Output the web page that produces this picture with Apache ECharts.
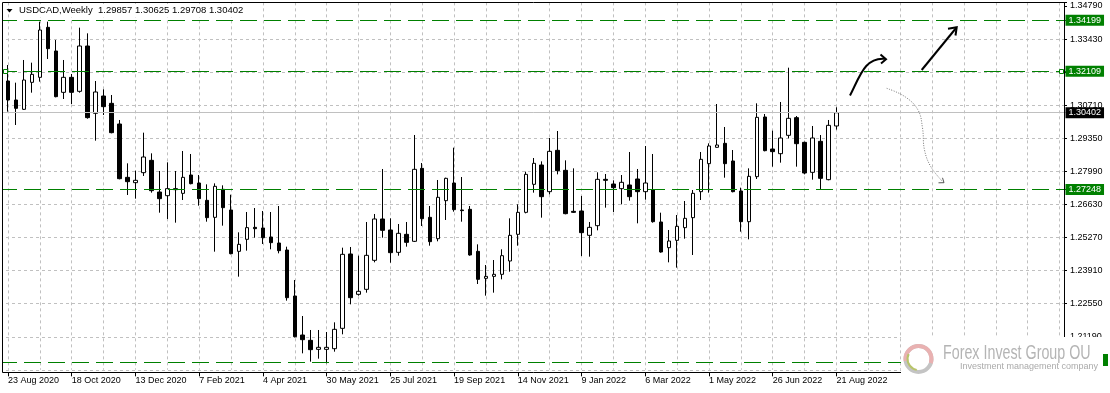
<!DOCTYPE html>
<html><head><meta charset="utf-8">
<script src="https://cdn.jsdelivr.net/npm/echarts@6/dist/echarts.min.js"></script>
<style>html,body{margin:0;padding:0;background:#fff}#c{width:1110px;height:393px}</style>
</head><body><div id="c"></div>
<script>
// USDCAD weekly candles, first week starts 23 Aug 2020
const firstWeek = '2020-08-23';
const opens = [1.31706,1.30925,1.30541,1.31651,1.31857,1.33913,1.32940,1.31240,1.31857,1.31281,
1.33145,1.30377,1.31089,1.30788,1.29938,1.27745,1.27526,1.27937,1.28444,1.27142,
1.26991,1.27279,1.27087,1.27841,1.27512,1.26799,1.26100,1.27252,1.26402,1.24702,
1.25196,1.25689,1.25662,1.25292,1.25045,1.24757,1.22866,1.21262,1.21043,1.20673,
1.20673,1.20700,1.21536,1.24593,1.22934,1.23140,1.24332,1.26032,1.25580,1.24661,
1.25401,1.25114,1.28115,1.26100,1.25223,1.26786,1.27512,1.26402,1.26429,1.24702,
1.23592,1.23674,1.23757,1.24305,1.25401,1.26306,1.27457,1.28252,1.27156,1.28855,
1.28033,1.26347,1.26361,1.25360,1.25758,1.27663,1.27471,1.27279,1.27430,1.27677,
1.27156,1.27224,1.25909,1.24853,1.25155,1.25676,1.26087,1.27156,1.28307,1.28979,
1.29143,1.28417,1.27183,1.25922,1.27773,1.30226,1.28910,1.28718,1.29472,1.30199,
1.29184,1.27951,1.29225,1.27649,1.29857];
const highs = [1.32364,1.31638,1.32570,1.32460,1.34146,1.34146,1.33392,1.32570,1.31994,1.33899,
1.33666,1.31706,1.31364,1.31131,1.30103,1.28321,1.28019,1.29582,1.28732,1.28006,
1.28362,1.28006,1.28828,1.28705,1.27841,1.27457,1.27498,1.27416,1.27032,1.25484,
1.26320,1.26484,1.26361,1.26320,1.26566,1.24894,1.23524,1.22043,1.21468,1.21468,
1.21386,1.21783,1.24853,1.24881,1.24524,1.25909,1.26238,1.28088,1.26059,1.25826,
1.25909,1.29486,1.28335,1.26566,1.27636,1.27731,1.28965,1.27759,1.26566,1.24990,
1.24140,1.24346,1.24785,1.26059,1.26635,1.27978,1.28540,1.28403,1.29362,1.29650,
1.28444,1.28115,1.26978,1.25909,1.27951,1.27882,1.27622,1.27841,1.28787,1.28088,
1.29034,1.28705,1.26292,1.25580,1.26196,1.26772,1.27224,1.28787,1.29143,1.30760,
1.29815,1.28869,1.27320,1.28115,1.30788,1.30349,1.29664,1.30843,1.32254,1.30267,
1.29212,1.29856,1.29486,1.30103,1.30625];
const lows = [1.30445,1.29897,1.30514,1.31226,1.31679,1.32611,1.31035,1.30966,1.30760,1.31226,
1.30157,1.29253,1.30308,1.29554,1.27663,1.27019,1.26868,1.27800,1.27115,1.26292,
1.26032,1.25881,1.26813,1.27457,1.26580,1.25922,1.24689,1.25758,1.24579,1.23661,
1.24730,1.25264,1.25004,1.24785,1.24620,1.22674,1.21166,1.20508,1.20166,1.20289,
1.20097,1.20577,1.21290,1.22523,1.22880,1.23003,1.24250,1.25264,1.24236,1.24524,
1.24894,1.25086,1.25744,1.24935,1.25114,1.25991,1.26333,1.25922,1.24524,1.23359,
1.22880,1.23003,1.23551,1.23866,1.24935,1.26265,1.27115,1.26087,1.27046,1.27868,
1.26224,1.26279,1.24511,1.24483,1.25566,1.26498,1.26320,1.26635,1.26786,1.25854,
1.26827,1.25881,1.24648,1.24250,1.24031,1.25223,1.24552,1.26813,1.27115,1.28965,
1.27731,1.27128,1.25511,1.25196,1.27677,1.28814,1.28184,1.28348,1.29349,1.28184,
1.27868,1.27649,1.27265,1.27622,1.29708];
const closes = [1.30925,1.30582,1.31747,1.31980,1.33803,1.33036,1.31062,1.31857,1.31240,1.33145,
1.30199,1.31254,1.30651,1.29582,1.27690,1.27567,1.27622,1.28581,1.27197,1.26868,
1.27279,1.27238,1.27745,1.27485,1.26868,1.26087,1.27375,1.26498,1.24606,1.24990,
1.25676,1.25634,1.25264,1.25059,1.24730,1.22797,1.21194,1.21070,1.20659,1.20755,
1.20755,1.21495,1.24579,1.22797,1.23058,1.24538,1.26032,1.25566,1.24648,1.25443,
1.25072,1.28074,1.26046,1.25100,1.26923,1.27704,1.26416,1.26375,1.24552,1.23551,
1.23674,1.23757,1.24524,1.25360,1.26306,1.27868,1.28321,1.26950,1.28814,1.28019,
1.26251,1.26306,1.25470,1.25689,1.27663,1.27622,1.27320,1.27540,1.26950,1.27156,
1.27512,1.25922,1.24675,1.25127,1.25730,1.26059,1.27087,1.28485,1.29034,1.29075,
1.28307,1.27156,1.25922,1.27786,1.30212,1.28842,1.28801,1.29362,1.30171,1.29129,
1.27923,1.29362,1.27704,1.29883,1.30402];
// horizontal levels drawn on the chart
const greenLevels = [1.34199, 1.32109, 1.27248];
const lowerLevel = 1.20140;
const lastPrice = 1.30402;
const titleText = 'USDCAD,Weekly  1.29857 1.30625 1.29708 1.30402';
const yMin = 1.1983, yMax = 1.3494, yStep = 0.0136;

const MONTHS = ['Jan','Feb','Mar','Apr','May','Jun','Jul','Aug','Sep','Oct','Nov','Dec'];
const t0 = Date.parse(firstWeek + 'T00:00:00Z');
const categories = [''];
for (let i = 0; i < opens.length; i++) {
  const d = new Date(t0 + i * 7 * 86400000);
  categories.push(d.getUTCDate() + ' ' + MONTHS[d.getUTCMonth()] + ' ' + d.getUTCFullYear());
}
while (categories.length < 135) categories.push('');

const candles = opens.map((o, i) => [i + 1, o, closes[i], lows[i], highs[i]]);

const FONT = '"Liberation Sans", Arial, sans-serif';
const GREEN = '#008000';
const gridColors = [];
for (let k = 0; k < 13; k++) gridColors.push(k >= 11 ? 'rgba(0,0,0,0)' : '#c0c0c0');

const labelIdx = (idx, val) => val !== '' && (idx - 1) % 8 === 0;

const greenMark = v => ({
  yAxis: v,
  lineStyle: { color: GREEN, type: [17, 7], width: 1 },
  label: { show: true, position: 'end', distance: -2, formatter: () => v.toFixed(5),
    color: '#fff', backgroundColor: GREEN, padding: [1, 3, 0, 3], lineHeight: 10,
    fontSize: 9, fontFamily: FONT }
});

const chart = echarts.init(document.getElementById('c'), null, { renderer: 'canvas' });
chart.setOption({
  animation: false,
  backgroundColor: '#fff',
  title: {
    text: titleText, left: 17, top: 4, padding: [1, 2, 1, 2], backgroundColor: '#fff',
    textStyle: { fontSize: 9.5, fontWeight: 'normal', color: '#000', fontFamily: FONT, lineHeight: 11 }
  },
  grid: { left: -4.5, top: 2.352, width: 1072, height: 367.48, containLabel: false },
  xAxis: {
    type: 'category', data: categories, boundaryGap: false, offset: 2.5,
    axisLine: { show: false },
    axisTick: { show: true, interval: labelIdx, length: 4, lineStyle: { color: '#000' } },
    axisLabel: { show: true, interval: labelIdx, align: 'left', margin: 3.5, color: '#000',
      fontSize: 9, fontFamily: FONT, hideOverlap: false },
    splitLine: { show: true, interval: (idx) => (idx - 1) % 4 === 0 && idx >= 1,
      lineStyle: { color: '#c0c0c0', type: [3, 3], width: 1 } }
  },
  yAxis: {
    type: 'value', position: 'right', min: yMin, max: yMax, interval: yStep, scale: true,
    offset: -3.5,
    axisLine: { show: false },
    axisTick: { show: true, length: 3, lineStyle: { color: '#000' } },
    axisLabel: { margin: 6, color: '#000', fontSize: 9, fontFamily: FONT,
      formatter: v => (Math.abs(v - yMax) < 1e-6 || Math.abs(v - yMin) < 1e-6) ? '' : v.toFixed(5) },
    splitLine: { show: true, lineStyle: { color: gridColors, type: [3, 3], width: 1 } }
  },
  series: [{
    type: 'candlestick',
    data: candles,
    encode: { x: 0, y: [1, 2, 3, 4] },
    barWidth: 4,
    itemStyle: { color: '#fff', color0: '#000', borderColor: '#000', borderColor0: '#000', borderWidth: 1 },
    markLine: {
      silent: true, symbol: 'none', animation: false, precision: 5,
      data: [
        { yAxis: lastPrice, lineStyle: { color: '#c0c0c0', type: 'solid', width: 1 },
          label: { show: true, position: 'end', distance: -2, formatter: () => lastPrice.toFixed(5),
            color: '#fff', backgroundColor: '#000', padding: [1, 3, 0, 3], lineHeight: 10,
            fontSize: 9, fontFamily: FONT } },
        ...greenLevels.map(greenMark),
        { yAxis: lowerLevel, lineStyle: { color: GREEN, type: [17, 7], width: 1 }, label: { show: false } }
      ]
    }
  }],
  graphic: [
    { type: 'rect', z: 100, shape: { x: 0, y: 0, width: 2, height: 393 }, style: { fill: '#fff' } },
    { type: 'rect', z: 101, shape: { x: 2.5, y: 2.5, width: 1062, height: 370 }, style: { fill: null, stroke: '#000', lineWidth: 1 } },
    { type: 'polygon', z: 102, shape: { points: [[6.5, 9], [12.5, 9], [9.5, 12.5]] }, style: { fill: '#000' } },
    { type: 'rect', z: 102, shape: { x: 3.5, y: 69.5, width: 4, height: 4 }, style: { fill: '#fff', stroke: GREEN, lineWidth: 1 } },
    { type: 'rect', z: 102, shape: { x: 1059.5, y: 69.5, width: 4, height: 4 }, style: { fill: '#fff', stroke: GREEN, lineWidth: 1 } },
    // hand-drawn arrows
    { type: 'bezierCurve', z: 103, shape: { x1: 850, y1: 95.5, cpx1: 860, cpy1: 76, cpx2: 865, cpy2: 57, x2: 885, y2: 58.8 },
      style: { stroke: '#000', lineWidth: 2, fill: null } },
    { type: 'polyline', z: 103, shape: { points: [[880.5, 54.5], [886, 59.3], [881, 63.5]] }, style: { stroke: '#000', lineWidth: 2, fill: null } },
    { type: 'line', z: 103, shape: { x1: 921.7, y1: 70, x2: 956.5, y2: 27.5 }, style: { stroke: '#000', lineWidth: 2 } },
    { type: 'polyline', z: 103, shape: { points: [[948, 28.8], [956.7, 27.3], [955.5, 35.5]] }, style: { stroke: '#000', lineWidth: 2, fill: null } },
    { type: 'polyline', z: 103, shape: { points: [[886.7, 88.3], [905, 96.7], [918, 110], [922.5, 128], [924.5, 150], [931, 167], [943.5, 182.5]], smooth: 0.4 },
      style: { stroke: '#777', lineWidth: 1, lineDash: [1, 1.5], fill: null } },
    { type: 'polyline', z: 103, shape: { points: [[938.5, 182.8], [944, 182.7], [942.5, 177.8]] }, style: { stroke: '#555', lineWidth: 1, fill: null } },
    // watermark box
    { type: 'rect', z: 110, shape: { x: 901, y: 337, width: 209, height: 56 }, style: { fill: '#fff' } },
    { type: 'rect', z: 111, shape: { x: 1103, y: 354, width: 5, height: 12 }, style: { fill: GREEN } },
    { type: 'ring', z: 111, shape: { cx: 918.5, cy: 359, r: 15, r0: 11 }, style: { fill: '#c4c4c4' } },
    { type: 'sector', z: 112, shape: { cx: 918.5, cy: 359, r: 15, r0: 11, startAngle: Math.PI * 0.95, endAngle: Math.PI * 2.1, clockwise: true },
      style: { fill: '#e9b1b1' } },
    { type: 'sector', z: 113, shape: { cx: 918.5, cy: 359, r: 12, r0: 10, startAngle: Math.PI * 0.55, endAngle: Math.PI * 1.15, clockwise: true },
      style: { fill: '#b8c46a' } },
    { type: 'text', z: 112, x: 943, y: 342.5, scaleX: 0.68,
      style: { text: 'Forex Invest Group OU', x: 0, y: 0, fill: '#b4b4b4', fontSize: 21, fontFamily: FONT, textVerticalAlign: 'top' } },
    { type: 'text', z: 112, x: 960, y: 362.5,
      style: { text: 'Investment management company', x: 0, y: 0, fill: '#aaaaaa', fontSize: 9, fontFamily: FONT, textVerticalAlign: 'top' } }
  ]
});
</script>
</body></html>
